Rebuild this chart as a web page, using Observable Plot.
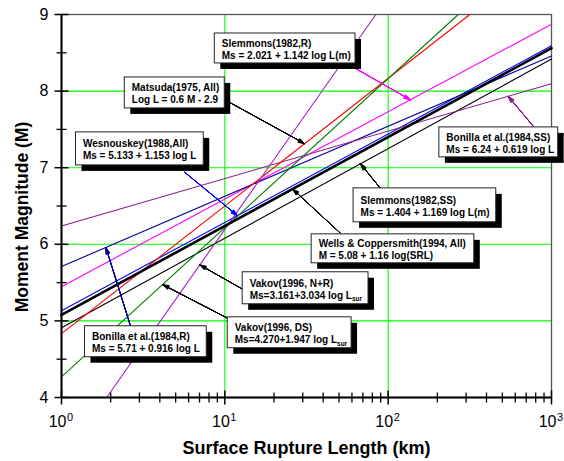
<!DOCTYPE html>
<html><head><meta charset="utf-8">
<script src="https://cdn.jsdelivr.net/npm/d3@7"></script>
<script src="https://cdn.jsdelivr.net/npm/@observablehq/plot@0.6"></script>
<style>body{margin:0;background:#fff}</style>
</head><body><div id="chart"></div>
<script>
// ---- regression relations (published form in the labels) ----
const series = ["Slemmons(1982,R)","Slemmons(1982,SS)","Wells & Coppersmith(1994, All)","Wesnouskey(1988,All)","Bonilla et al.(1984,R)","Bonilla et al.(1984,SS)","Matsuda(1975, All)","Vakov(1996, N+R)","Vakov(1996, DS)"];
const equations = ["Ms = 2.021 + 1.142 log L(m)","Ms = 1.404 + 1.169 log L(m)","M = 5.08 + 1.16 log(SRL)","Ms = 5.133 + 1.153 log L","Ms = 5.71 + 0.916 log L","Ms = 6.24 + 0.619 log L","Log L = 0.6 M - 2.9","Ms=3.161+3.034 log L_sur","Ms=4.270+1.947 log L_sur"];
// M = a + b * log10(L in km)  (L(m) relations shifted by 3 decades; Matsuda inverted)
const intercepts = [2.021 + 1.142 * 3, 1.404 + 1.169 * 3, 5.08, 5.133, 5.71, 6.24, 2.9 / 0.6, 3.161, 4.270];
const slopes = [1.142, 1.169, 1.16, 1.153, 0.916, 0.619, 1 / 0.6, 3.034, 1.947];

// ---- annotation boxes (data coordinates: L km, M) ----
const boxL1 = [8.68, 61.4, 34.0, 1.226, 1.392, 205.8, 2.44, 12.86, 10.42];
const boxL2 = [63.1, 459, 336.8, 7.43, 7.75, 1099, 9.99, 75.8, 59.7];
const boxMTop = [8.752, 6.730, 6.130, 7.461, 4.930, 7.526, 8.178, 5.635, 5.047];
const boxMBot = [8.361, 6.287, 5.752, 7.030, 4.526, 7.135, 7.774, 5.217, 4.643];

// ---- leader arrows: from (L, M) to a point on the series line at L ----
const arrowFromL = [63.1, 89.7, 51.1, 5.69, 2.66, 784, 10.7, 12.86, 10.42];
const arrowFromM = [8.296, 6.730, 6.143, 6.939, 4.917, 7.526, 7.852, 5.413, 5.034];
const arrowToL = [136.8, 67.7, 26.0, 11.94, 1.87, 543, 30.8, 7.03, 4.155];

// ---- axis ticks ----
const xMajor = [1, 10, 100, 1000];
const yMajor = [4, 5, 6, 7, 8, 9];
const yMinor = [4.5, 5.5, 6.5, 7.5, 8.5];
const xMinor = [1, 10, 100].flatMap(d => [2,3,4,5,6,7,8,9].map(k => k * d));
const xGrid = [10, 100];
const yGrid = [5, 6, 7, 8];

const seriesColors = ["#ff00ff","#000000","#000000","#0000ff","#000099","#8b1a8b","#ff0000","#a020c0","#008000"];
const coloredArrows = [0, 3, 4, 5];
const thick = "Wells & Coppersmith(1994, All)";

const lines = series.flatMap((s, i) => {
  const a = intercepts[i], b = slopes[i];
  const t0 = Math.max(0, (4 - a) / b), t1 = Math.min(3, (9 - a) / b);
  return [{series: s, L: 10 ** t0, M: a + b * t0}, {series: s, L: 10 ** t1, M: a + b * t1}];
});
const boxes = series.map((s, i) => ({series: s, eq: equations[i], L1: boxL1[i], L2: boxL2[i], Mt: boxMTop[i], Mb: boxMBot[i], Mc: (boxMTop[i] + boxMBot[i]) / 2}));
const arrows = series.map((s, i) => ({series: s, i, L1: arrowFromL[i], M1: arrowFromM[i], L2: arrowToL[i], M2: intercepts[i] + slopes[i] * Math.log10(arrowToL[i])}));
const arrowsC = arrows.filter(d => coloredArrows.includes(d.i));
const arrowsK = arrows.filter(d => !coloredArrows.includes(d.i));

const headAngles = [36, 28, 20, 12, 4];
const arrowMarks = headAngles.flatMap(a => [
  Plot.arrow(arrowsC, {x1: "L1", y1: "M1", x2: "L2", y2: "M2", stroke: "series", strokeWidth: 1, headLength: 10, headAngle: a}),
  Plot.arrow(arrowsK, {x1: "L1", y1: "M1", x2: "L2", y2: "M2", stroke: "black", strokeWidth: 1, headLength: 10, headAngle: a})
]);

// tick symbols crossing the axis line
const vTick = {draw(ctx, size) { const r = Math.sqrt(size / Math.PI); ctx.moveTo(0, -r); ctx.lineTo(0, r); }};
const hTick = {draw(ctx, size) { const r = Math.sqrt(size / Math.PI); ctx.moveTo(-r, 0); ctx.lineTo(r, 0); }};

const chart = Plot.plot({
  width: 564, height: 461,
  marginLeft: 61, marginRight: 13, marginTop: 14, marginBottom: 64,
  style: {fontFamily: "Liberation Sans, Arial, sans-serif", background: "white"},
  x: {type: "log", domain: [1, 1000], axis: null},
  y: {domain: [4, 9], axis: null},
  color: {domain: series, range: seriesColors},
  marks: [
    Plot.ruleX(xGrid, {stroke: "#00ff00", strokeWidth: 1.1}),
    Plot.ruleY(yGrid, {stroke: "#00ff00", strokeWidth: 1.1}),
    Plot.frame({stroke: "#555", strokeWidth: 1.3}),
    Plot.line(lines.filter(d => d.series !== thick), {x: "L", y: "M", z: "series", stroke: "series", strokeWidth: 1.1}),
    Plot.line(lines.filter(d => d.series === thick), {x: "L", y: "M", stroke: "black", strokeWidth: 2.6}),
    Plot.ruleX([1], {stroke: "black", strokeWidth: 2}),
    Plot.ruleY([4], {stroke: "black", strokeWidth: 2}),
    Plot.dot(xMajor, {x: d => d, y: 4, symbol: vTick, r: 7, fill: "none", stroke: "black", strokeWidth: 1.5}),
    Plot.dot(xMinor, {x: d => d, y: 4, symbol: vTick, r: 5, fill: "none", stroke: "black", strokeWidth: 1.3}),
    Plot.dot(yMajor, {x: 1, y: d => d, symbol: hTick, r: 7, fill: "none", stroke: "black", strokeWidth: 1.5}),
    Plot.dot(yMinor, {x: 1, y: d => d, symbol: hTick, r: 5, fill: "none", stroke: "black", strokeWidth: 1.3}),
    Plot.text(yMajor, {y: d => d, frameAnchor: "left", text: d => String(d), textAnchor: "end", lineAnchor: "middle", dx: -13, fontSize: 16}),
    Plot.text(xMajor, {x: d => d, frameAnchor: "bottom", text: () => "10", textAnchor: "end", lineAnchor: "middle", dx: 5, dy: 24.6, fontSize: 16}),
    Plot.text(xMajor, {x: d => d, frameAnchor: "bottom", text: d => String(Math.round(Math.log10(d))), textAnchor: "start", lineAnchor: "middle", dx: 5.5, dy: 19.5, fontSize: 11}),
    Plot.text(["Surface Rupture Length (km)"], {frameAnchor: "bottom", text: d => d, textAnchor: "middle", lineAnchor: "middle", dy: 51, fontSize: 18, fontWeight: "bold"}),
    Plot.text(["Moment Magnitude (M)"], {frameAnchor: "left", text: d => d, textAnchor: "middle", lineAnchor: "middle", dx: -39.6, dy: 11, rotate: -90, fontSize: 17.5, fontWeight: "bold"}),
    ...arrowMarks,
    Plot.rect(boxes, {x1: "L1", x2: "L2", y1: "Mb", y2: "Mt", fill: "black", dx: 6, dy: 6}),
    Plot.rect(boxes, {x1: "L1", x2: "L2", y1: "Mb", y2: "Mt", fill: "white", stroke: "#222", strokeWidth: 1}),
    Plot.text(boxes, {x: "L1", y: "Mc", text: "series", textAnchor: "start", lineAnchor: "middle", dx: 7, dy: -4.7, fontSize: 10, fontWeight: "bold"}),
    Plot.text(boxes, {x: "L1", y: "Mc", text: "eq", textAnchor: "start", lineAnchor: "middle", dx: 7, dy: 7.3, fontSize: 10, fontWeight: "bold"})
  ]
});

// subscripts "sur"
chart.querySelectorAll("text").forEach(t => {
  if (t.children.length === 0 && t.textContent.endsWith("_sur")) {
    const base = t.textContent.replace("_sur", "");
    t.textContent = base;
    const ts = document.createElementNS("http://www.w3.org/2000/svg", "tspan");
    ts.setAttribute("font-size", "6.5");
    ts.setAttribute("dy", "2.5");
    ts.textContent = "sur";
    t.appendChild(ts);
  }
});
document.getElementById("chart").appendChild(chart);
</script>
</body></html>
